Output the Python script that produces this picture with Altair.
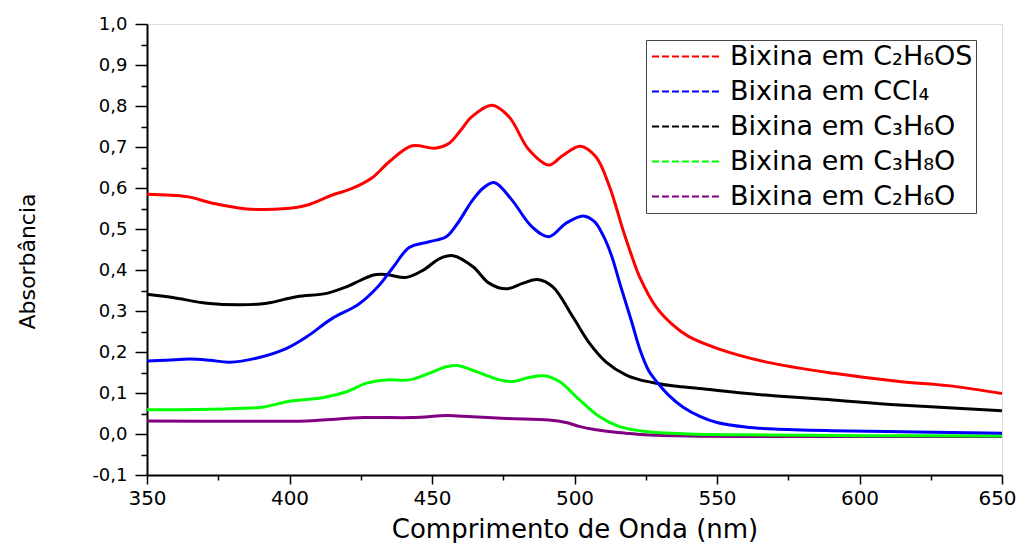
import altair as alt
import pandas as pd

# ---------------- data ----------------
series_names = [
    "Bixina em C₂H₆OS",
    "Bixina em CCl₄",
    "Bixina em C₃H₆O",
    "Bixina em C₃H₈O",
    "Bixina em C₂H₆O",
]
series_colors = ["#ff0000", "#0000ff", "#000000", "#00ff00", "#800080"]

red_x = [350, 364, 373, 385, 399, 406, 415, 422, 429, 435, 443, 451, 456, 460, 464, 471,
         477, 484, 491, 496, 502, 507.5, 512.3, 517, 520.3, 522.8, 528.6, 534.5, 540, 550,
         567, 591, 614, 631, 650]
red_y = [0.585, 0.579, 0.563, 0.549, 0.550, 0.558, 0.583, 0.599, 0.625, 0.664, 0.703, 0.697,
         0.709, 0.740, 0.774, 0.802, 0.774, 0.693, 0.656, 0.680, 0.702, 0.676, 0.603, 0.498,
         0.430, 0.384, 0.310, 0.266, 0.238, 0.209, 0.176, 0.148, 0.128, 0.118, 0.099]

blue_x = [350, 357, 365, 372, 379, 389, 399, 406, 415, 424, 431, 436.5, 442, 449, 455, 459,
          464, 468, 472, 478, 485, 491, 497, 503, 507, 510, 513, 516, 520, 523, 526, 529.5,
          533, 538, 544, 550, 560, 570, 590, 620, 650]
blue_y = [0.178, 0.180, 0.183, 0.180, 0.175, 0.186, 0.209, 0.237, 0.282, 0.315, 0.359, 0.408,
          0.455, 0.469, 0.481, 0.514, 0.568, 0.600, 0.613, 0.571, 0.506, 0.481, 0.514, 0.532,
          0.518, 0.485, 0.435, 0.365, 0.275, 0.205, 0.155, 0.122, 0.095, 0.066, 0.043, 0.028,
          0.017, 0.012, 0.008, 0.005, 0.002]

black_x = [350, 359, 371, 383, 392, 402.5, 413, 420, 425, 429.5, 434, 441, 447, 452.7, 457.4,
           464.4, 470, 476, 482, 487, 492.4, 499.4, 505.3, 511, 518, 523, 528.6, 535, 543.8,
           567, 590.6, 614, 650]
black_y = [0.341, 0.333, 0.319, 0.315, 0.319, 0.335, 0.343, 0.359, 0.375, 0.388, 0.389, 0.382,
           0.400, 0.428, 0.435, 0.408, 0.368, 0.354, 0.368, 0.377, 0.359, 0.286, 0.221, 0.176,
           0.144, 0.132, 0.124, 0.117, 0.111, 0.095, 0.083, 0.071, 0.057]

green_x = [350, 367.5, 384, 391, 400, 412, 420, 427, 434, 442, 449, 455, 459, 465.6, 473.7,
           478.4, 484, 489.5, 494.7, 501.8, 508.8, 515.8, 525, 540, 560, 600, 650]
green_y = [0.059, 0.060, 0.063, 0.066, 0.080, 0.089, 0.103, 0.124, 0.132, 0.132, 0.148, 0.164,
           0.167, 0.152, 0.132, 0.128, 0.138, 0.142, 0.128, 0.083, 0.042, 0.018, 0.006, 0.000,
           -0.002, -0.004, -0.005]

purple_x = [350, 385, 406, 426, 443, 455, 459, 476, 491, 497, 502, 507, 512, 518, 523, 540,
            600, 650]
purple_y = [0.032, 0.031, 0.032, 0.040, 0.040, 0.045, 0.044, 0.038, 0.034, 0.028, 0.018,
            0.011, 0.006, 0.002, -0.001, -0.005, -0.006, -0.006]

x_major = [350, 400, 450, 500, 550, 600, 650]
x_minor = [375, 425, 475, 525, 575, 625]
y_major = [-0.1, 0.0, 0.1, 0.2, 0.3, 0.4, 0.5, 0.6, 0.7, 0.8, 0.9, 1.0]
y_minor = [-0.05, 0.05, 0.15, 0.25, 0.35, 0.45, 0.55, 0.65, 0.75, 0.85, 0.95]

x_title = "Comprimento de Onda (nm)"
y_title = "Absorbância"

# ---------------- table ----------------
all_x = [red_x, blue_x, black_x, green_x, purple_x]
all_y = [red_y, blue_y, black_y, green_y, purple_y]
rows = []
for name, xs, ys in zip(series_names, all_x, all_y):
    for xv, yv in zip(xs, ys):
        rows.append({"serie": name, "nm": xv, "abs": yv})
df = pd.DataFrame(rows)

FONT = "DejaVu Sans"

x_scale = alt.Scale(domain=[350, 650], nice=False, zero=False)
y_scale = alt.Scale(domain=[-0.1, 1.0], nice=False, zero=False)
color_scale = alt.Scale(domain=series_names, range=series_colors)

label_expr = "replace(replace(format(datum.value, '.1f'), '.', ','), '\u2212', '-')"

x_axis_major = alt.Axis(
    values=x_major, orient="bottom", tickSize=9, tickWidth=1.5, tickColor="black",
    domainColor="black", domainWidth=2, labelFont=FONT, labelFontSize=20,
    labelColor="black", labelPadding=4, labelFlush=False, labelOverlap=False,
    labelOffset={"condition": {"test": "datum.value == 650", "value": -5}, "value": 0},
    title=x_title, titleFont=FONT, titleFontSize=26, titleFontWeight="normal",
    titleColor="black", titleBaseline="alphabetic", titleY=62, grid=False,
)
y_axis_major = alt.Axis(
    values=y_major, orient="left", tickSize=12, tickWidth=1.5, tickColor="black",
    domainColor="black", domainWidth=2, labelFont=FONT, labelFontSize=18,
    labelColor="black", labelPadding=8, labelExpr=label_expr, labelOverlap=False,
    labelFlush=False, title=y_title, titleFont=FONT, titleFontSize=22,
    titleFontWeight="normal", titleColor="black", titleAngle=-90,
    titleBaseline="middle", titleAlign="center", titleX=-120, titleY=237, grid=False,
)
x_axis_minor = alt.Axis(
    values=x_minor, orient="bottom", tickSize=5, tickWidth=1.5, tickColor="black",
    domain=False, labels=False, title=None, grid=False,
)
y_axis_minor = alt.Axis(
    values=y_minor, orient="left", tickSize=6, tickWidth=1.5, tickColor="black",
    domain=False, labels=False, title=None, grid=False,
)

# long dashed stroke symbol (custom path, small nominal size keeps rows compact)
legend = alt.Legend(
    title=None, orient="none", legendX=499, legendY=16,
    symbolType="M-3.136,0H3.136", symbolSize=484, symbolStrokeWidth=2,
    symbolDash=[7, 3], symbolOffset=24, labelFont=FONT, labelFontSize=27,
    labelColor="black", labelOffset=30, rowPadding=7, padding=3,
    strokeColor="#444444", fillColor="white", labelLimit=400,
)

base = alt.Chart(df)
draw_order = [4, 3, 2, 1, 0]  # purple below ... red on top
layers = []
for k, idx in enumerate(draw_order):
    first = k == 0
    layer = base.transform_filter(
        alt.datum.serie == series_names[idx]
    ).mark_line(strokeWidth=3, interpolate="catmull-rom").encode(
        x=alt.X("nm:Q", scale=x_scale, axis=x_axis_major if first else None),
        y=alt.Y("abs:Q", scale=y_scale, axis=y_axis_major if first else None),
        color=alt.Color("serie:N", scale=color_scale, sort=series_names,
                        legend=legend if first else None),
    )
    layers.append(layer)

minor_layer = base.mark_line(opacity=0).encode(
    x=alt.X("nm:Q", scale=x_scale, axis=x_axis_minor),
    y=alt.Y("abs:Q", scale=y_scale, axis=y_axis_minor),
    detail="serie:N",
)
layers.append(minor_layer)

chart = alt.layer(*layers).resolve_axis(x="independent", y="independent").properties(
    width=855,
    height=451,
    autosize=alt.AutoSizeParams(type="none"),
    padding={"left": 139, "top": 16, "right": 14, "bottom": 68},
).configure_view(stroke="#808080", strokeWidth=1).configure(background="white")

chart.save("out.html", embed_options={"renderer": "svg", "actions": False})
